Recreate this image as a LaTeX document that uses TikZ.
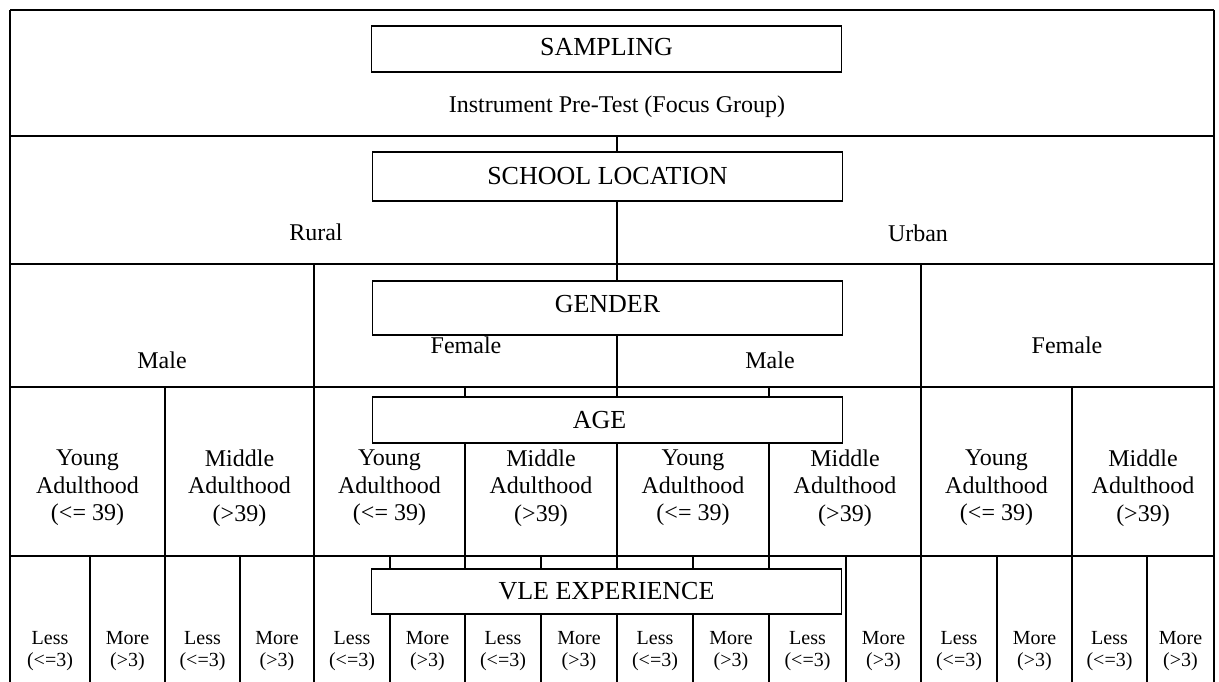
\documentclass[tikz,border=0pt]{standalone}
\usepackage{fontspec}
\setmainfont{Liberation Serif}
\begin{document}
\begin{tikzpicture}[x=1pt,y=-1pt,
  gridline/.style={line width=1.4pt},
  box/.style={draw, line width=1.8pt, fill=white, inner sep=0pt, minimum width=470pt},
  title/.style={font=\fontsize{26}{28}\selectfont},
  lbl/.style={font=\fontsize{24}{26}\selectfont, inner sep=0pt},
  agetxt/.style={font=\fontsize{24}{27.5}\selectfont, align=center, inner sep=0pt},
  exptxt/.style={font=\fontsize{20}{22}\selectfont, align=center, inner sep=0pt}]
\useasboundingbox (0,0) rectangle (1219,682);
% grid (table frame)
\foreach \y in {10,136,264,387,556} \draw[gridline] (10,\y) -- (1214,\y);
\draw[gridline] (10,10) -- (10,682);
\draw[gridline] (1214,10) -- (1214,682);
\draw[gridline] (617,136) -- (617,682);
\foreach \x in {314,921} \draw[gridline] (\x,264) -- (\x,682);
\foreach \x in {165,465,769,1072} \draw[gridline] (\x,387) -- (\x,682);
\foreach \x in {90,240,390,541,693,846,997,1147} \draw[gridline] (\x,556) -- (\x,682);
% boxes
\node[box, minimum height=46pt] (samp) at (606.5,49) {};
\node[box, minimum height=49pt] (school) at (607.5,176.5) {};
\node[box, minimum height=54pt] (gender) at (607.5,308) {};
\node[box, minimum height=46pt] (age) at (607.5,420) {};
\node[box, minimum height=45pt] (vle) at (606.5,591.5) {};
\node[title] (sampt) at ([yshift=1.5pt]samp.center) {SAMPLING};
\node[title] (schoolt) at (school.center) {SCHOOL LOCATION};
\node[title] (gendert) at ([yshift=4pt]gender.center) {GENDER};
\node[title] (aget) at ([xshift=-8pt]age.center) {AGE};
\node[title] (vlet) at (vle.center) {VLE EXPERIENCE};
% labels
\node[lbl] (pretest) at (617,107) {Instrument Pre-Test (Focus Group)};
\node[lbl] (rural) at (316,232) {Rural};
\node[lbl] (urban) at (918,233) {Urban};
\node[lbl] (g1) at (162,360) {Male};
\node[lbl] (g2) at (466,345) {Female};
\node[lbl] (g3) at (770,360) {Male};
\node[lbl] (g4) at (1067,345) {Female};
% age groups
\foreach \x/\n in {87.5/1,389.5/3,693/5,996.5/7}
  \node[agetxt] (a\n) at (\x,488) {Young\\Adulthood\\(<= 39)};
\foreach \x/\n in {239.5/2,541/4,845/6,1143/8}
  \node[agetxt] (a\n) at (\x,488) {Middle\\Adulthood\\(>39)};
% experience
\foreach \x/\n in {50/1,202.5/3,352/5,503/7,655/9,807.5/11,959/13,1109.5/15}
  \node[exptxt] (e\n) at (\x,651) {Less\\(<=3)};
\foreach \x/\n in {127.5/2,277/4,427.5/6,579/8,731/10,883.5/12,1034.5/14,1180.5/16}
  \node[exptxt] (e\n) at (\x,651) {More\\(>3)};
\end{tikzpicture}
\end{document}
